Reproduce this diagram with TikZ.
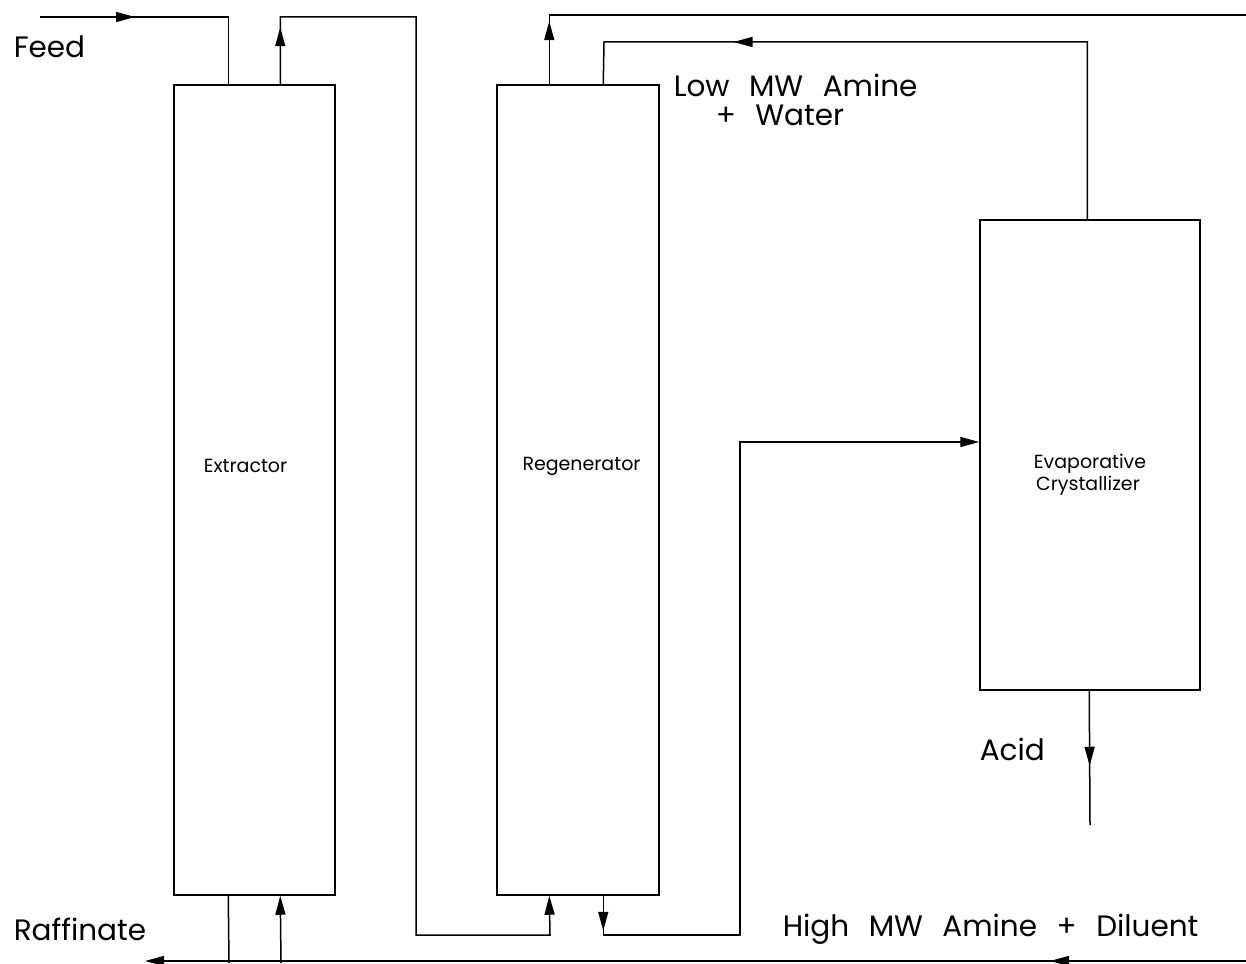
\documentclass[tikz,border=0pt]{standalone}
\usepackage{fontspec}
\setmainfont{Poppins}
\usetikzlibrary{arrows.meta,calc,decorations.markings}
\begin{document}
\begin{tikzpicture}[x=1pt,y=-1pt,
  line width=1.5pt,
  unit/.style={draw,line width=1.5pt,minimum width=#1,inner sep=0pt},
  midarr/.style={postaction={decorate},decoration={markings,mark=at position #1 with {\arrow{Triangle[length=19pt,width=10pt]}}}},
  endarr/.style={-{Triangle[length=19pt,width=10pt]}},
  flow/.style={line width=1.5pt},
  word/.style={font=\fontsize{29.5}{35}\selectfont,inner sep=0pt,anchor=base west},
  small/.style={font=\fontsize{19}{23}\selectfont,inner sep=0pt}]
\useasboundingbox (0,0) rectangle (1246,963);
% units
\node[unit=161pt,minimum height=810pt] (ext) at (254.5,490) {};
\node[unit=162pt,minimum height=810pt] (reg) at (578,490) {};
\node[unit=220pt,minimum height=470pt] (cry) at (1090,455) {};
\node[small] (extlab) at (245.5,466) {Extractor};
\node[small] (reglab) at (581.5,466) {Regenerator};
\node[small] (crylab1) at (1090,464) {Evaporative};
\node[small] (crylab2) at (1088,486) {Crystallizer};
% labels
\node[word] (feed) at (13,58) {Feed};
\node[word] (raff) at (13,940) {Raffinate};
\node[word] (low1) at (673,96) {Low};
\node[word] (low2) at ($(low1.base east)+(18,0)$) {MW};
\node[word] (low3) at ($(low2.base east)+(18,0)$) {Amine};
\node[word] (wat1) at (715,125) {+};
\node[word] (wat2) at ($(wat1.base east)+(18,0)$) {Water};
\node[word] (acid) at (979,760) {Acid};
\node[word] (hi1) at (782,936) {High};
\node[word] (hi2) at ($(hi1.base east)+(18,0)$) {MW};
\node[word] (hi3) at ($(hi2.base east)+(18,0)$) {Amine};
\node[word] (hi4) at ($(hi3.base east)+(18,0)$) {+};
\node[word] (hi5) at ($(hi4.base east)+(18,0)$) {Diluent};
% free ends
\coordinate (feedin) at (40,17);
\coordinate (raffout) at (229,963);
\coordinate (solvin) at (281,963);
\coordinate (lowout) at (1246,15);
\coordinate (acidout) at (1090,825);
\coordinate (botR) at (1246,961);
\coordinate (botL) at (145,961);
% connectors
\draw[flow,midarr=95pt] (feedin) -| ($(ext.north west)+(55,0)$);
\draw[flow,midarr=57pt,endarr] ($(ext.north west)+(107,0)$) |- (416,17) |- (550,935) -- ($(reg.south west)+(53,0)$);
\draw[flow,midarr=63pt] ($(reg.north west)+(53,0)$) |- (lowout);
\draw[flow,midarr=531pt] ($(cry.north west)+(108,0)$) |- (604,42) -- ($(reg.north west)+(107,0)$);
\draw[flow,midarr=35pt,endarr] ($(reg.south west)+(107,0)$) |- (740,935) |- (cry.west |- 0,442);
\draw[flow,midarr=75pt] ($(cry.south west)+(110,0)$) -- (acidout);
\draw[flow] ($(ext.south west)+(55,0)$) -- (raffout);
\draw[flow,endarr] (solvin) -- ($(ext.south west)+(107,0)$);
\draw[flow,midarr=196pt,endarr] (botR) -- (botL);
\end{tikzpicture}
\end{document}
